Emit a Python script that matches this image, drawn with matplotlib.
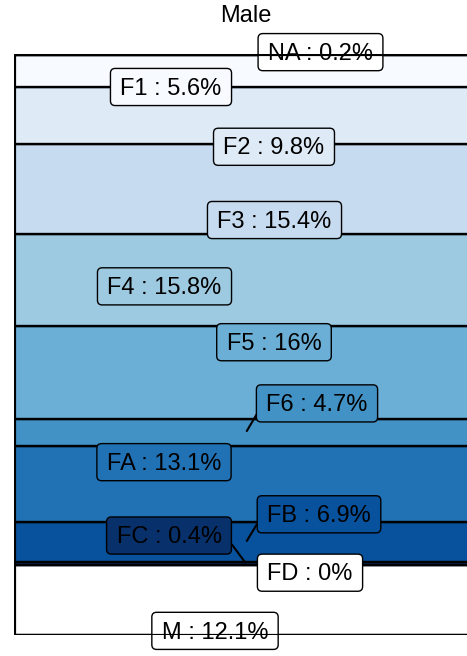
import matplotlib
matplotlib.use("Agg")
import matplotlib.pyplot as plt
from matplotlib.patches import Rectangle, BoxStyle
from matplotlib.transforms import blended_transform_factory

plt.rcParams['font.family'] = ['Liberation Sans', 'DejaVu Sans']

# stacked from bottom to top
categories = ["M", "FD", "FC", "FB", "FA", "F6", "F5", "F4", "F3", "F2", "F1", "NA"]
shares = [12.1, 0, 0.4, 6.9, 13.1, 4.7, 16, 15.8, 15.4, 9.8, 5.6, 0.2]
fills = ["#ffffff", "#ffffff", "#08306b", "#08519c", "#2171b5", "#4292c6",
         "#6baed6", "#9ecae1", "#c6dbef", "#deebf7", "#f7fbff", "#ffffff"]
group = "Male"

# repelled label positions, offset from each segment centre (pixels)
label_offsets = [(-31, -31), (64, -8), (-77, 28), (73, 28), (-82, 22), (71, 29),
                 (28, 30), (-81.5, -6.6), (28.5, -31), (28, -31), (-75, -16), (74.5, 2)]
# where the leader segment leaves the label (fraction of text extent)
leaders = {"F6": (-0.09, 0.12), "FB": (-0.1, 0.11), "FC": (1.1, 0.16)}


def label_box(x0, y0, width, height, mutation_size):
    padx = 0.42 * mutation_size
    pad_top, pad_bot = 0.39 * mutation_size, 0.25 * mutation_size
    rnd = BoxStyle.Round(pad=0, rounding_size=0.2)
    return rnd(x0 - padx, y0 - pad_bot, width + 2 * padx,
               height + pad_top + pad_bot, mutation_size)


fig = plt.figure(figsize=(4.67, 6.56), dpi=100)
ax = fig.add_axes([13.5 / 467, 21 / 656, (467 - 13.5) / 467, 581.5 / 656])
ax.set_xlim(0, (467 - 13.5) / 465)
ax.set_ylim(0, 100)
ax.axis('off')

bottoms = []
total = 0
for s in shares:
    bottoms.append(total)
    total += s

ax.bar(0.5, shares, bottom=bottoms, width=1, color=fills, edgecolor='black',
       linewidth=1.7, zorder=1)

for cat, s, b, fc, off in zip(categories, shares, bottoms, fills, label_offsets):
    props = None
    if cat in leaders:
        props = dict(arrowstyle='-', color='black', lw=1.5, patchA=None,
                     shrinkA=0, shrinkB=1.1, relpos=leaders[cat])
    ax.annotate(f"{cat} : {s:g}%", xy=(0.5, b + s / 2), xytext=(off[0], off[1] - 1.7),
                textcoords='offset pixels', ha='center', va='center', fontsize=17,
                bbox=dict(boxstyle=label_box, fc=fc, ec='black', lw=1.0),
                arrowprops=props, zorder=3, annotation_clip=False)

ax.add_patch(Rectangle((0, 0), 1, 100, fill=False, ec='black', lw=2.3, zorder=4))

trans = blended_transform_factory(ax.transData, ax.transAxes)
ax.annotate(group, xy=(0.5, 1), xycoords=trans, xytext=(0, 31.5),
            textcoords='offset pixels', ha='center', va='baseline', fontsize=17)

fig.savefig("out.png", dpi=100)
